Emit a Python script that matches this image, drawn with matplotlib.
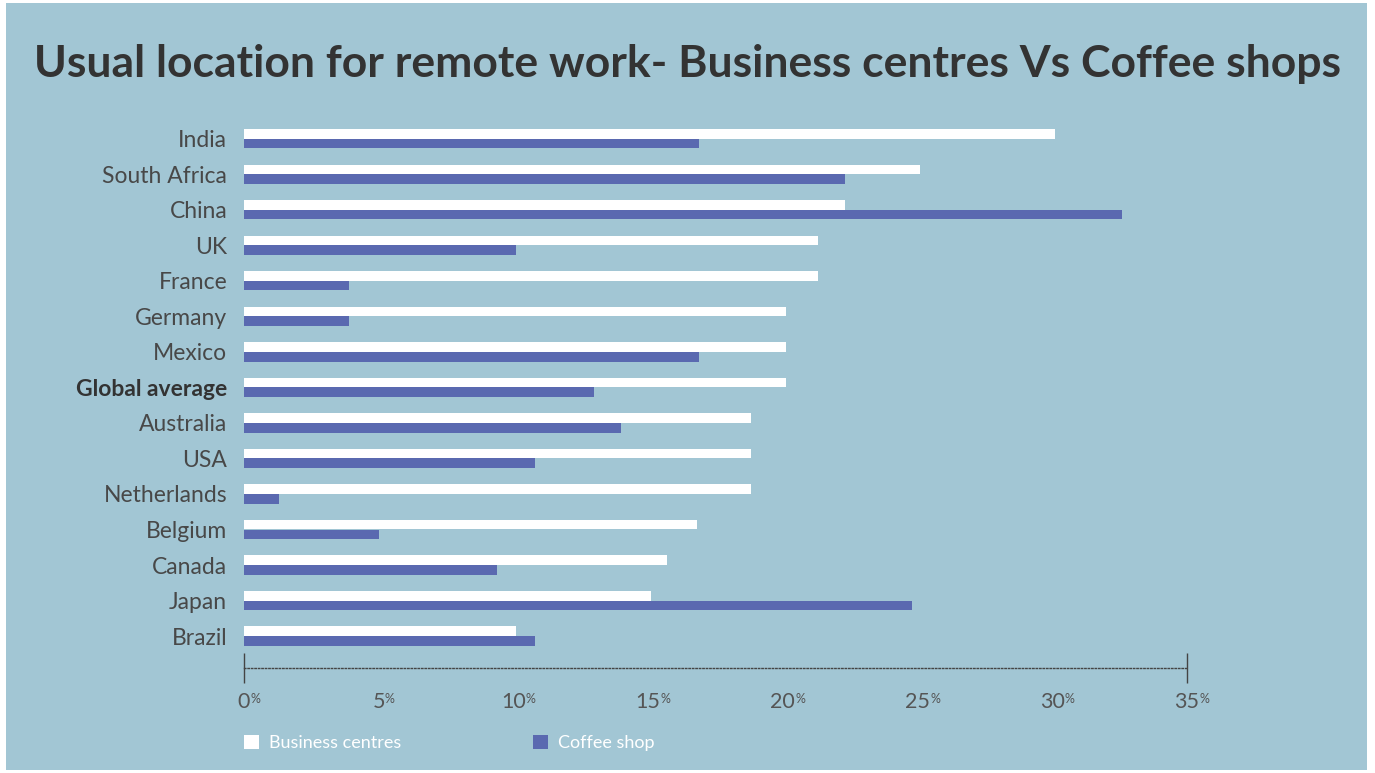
import matplotlib.pyplot as plt
from matplotlib.patches import Patch, Rectangle
import matplotlib.transforms as mtransforms

# data (%)
countries = ["India", "South Africa", "China", "UK", "France", "Germany", "Mexico",
             "Global average", "Australia", "USA", "Netherlands", "Belgium", "Canada",
             "Japan", "Brazil"]
business = [30.1, 25.1, 22.3, 21.3, 21.3, 20.1, 20.1, 20.1, 18.8, 18.8, 18.8, 16.8, 15.7, 15.1, 10.1]
coffee = [16.9, 22.3, 32.6, 10.1, 3.9, 3.9, 16.9, 13.0, 14.0, 10.8, 1.3, 5.0, 9.4, 24.8, 10.8]
xticks = [0, 5, 10, 15, 20, 25, 30, 35]

bg = "#A2C6D4"
blue = "#5A69B0"

plt.rcParams["font.family"] = ["Lato", "DejaVu Sans"]

fig = plt.figure(figsize=(13.75, 7.73), dpi=100, facecolor="white")
fig.patches.append(Rectangle((6 / 1375, 3 / 773), 1361 / 1375, 767 / 773,
                             transform=fig.transFigure, facecolor=bg, edgecolor="none", zorder=-1))

ax = fig.add_axes([244 / 1375, 1 - 668 / 773, 943 / 1375, (668 - 114) / 773])
ax.set_facecolor("none")

y = list(range(len(countries)))
h = 0.27
ax.barh([i - h / 2 for i in y], business, height=h, color="white")
ax.barh([i + h / 2 for i in y], coffee, height=h, color=blue)

ax.set_xlim(0, 35)
ax.set_ylim(14.9, -0.7)

ax.set_yticks(y)
ax.set_yticklabels(countries, fontsize=16.5, color="#484848")
for lab in ax.get_yticklabels():
    if lab.get_text() == "Global average":
        lab.set_fontweight("bold")
        lab.set_color("#333333")
ax.tick_params(axis="y", length=0, pad=12)

for s in ["top", "right", "left"]:
    ax.spines[s].set_visible(False)
ax.spines["bottom"].set_linestyle((0, (1, 1.5)))
ax.spines["bottom"].set_color("#444444")
ax.spines["bottom"].set_linewidth(1)

ax.set_xticks([])
ax.set_xticks([0, 35], minor=True)
ax.tick_params(axis="x", which="minor", direction="inout", length=22, width=1, color="#444444")
ax.xaxis.set_minor_formatter(plt.NullFormatter())

trans = mtransforms.blended_transform_factory(ax.transData, ax.transAxes)
for v in xticks:
    t = ax.text(v, -0.062, str(v), transform=trans, ha="center", va="center",
                fontsize=15.5, color="#555555")
    ax.annotate("%", xy=(1, 0.95), xycoords=t, ha="left", va="top",
                fontsize=9, color="#555555")

handles = [Patch(facecolor="white", label="Business centres"),
           Patch(facecolor=blue, label="Coffee shop")]
leg = fig.legend(handles=handles, ncol=2, frameon=False, loc="center left",
                 bbox_to_anchor=(231 / 1375, 1 - 743 / 773), fontsize=13,
                 handlelength=0.85, handleheight=0.85, handletextpad=0.55, columnspacing=7.3,
                 borderpad=0.2)
for t in leg.get_texts():
    t.set_color("white")

fig.text(0.5, 1 - 64 / 773, "Usual location for remote work- Business centres Vs Coffee shops",
         ha="center", va="center", fontsize=32, fontweight="bold", color="#333333")

fig.savefig("out.png", dpi=100, facecolor="white")
